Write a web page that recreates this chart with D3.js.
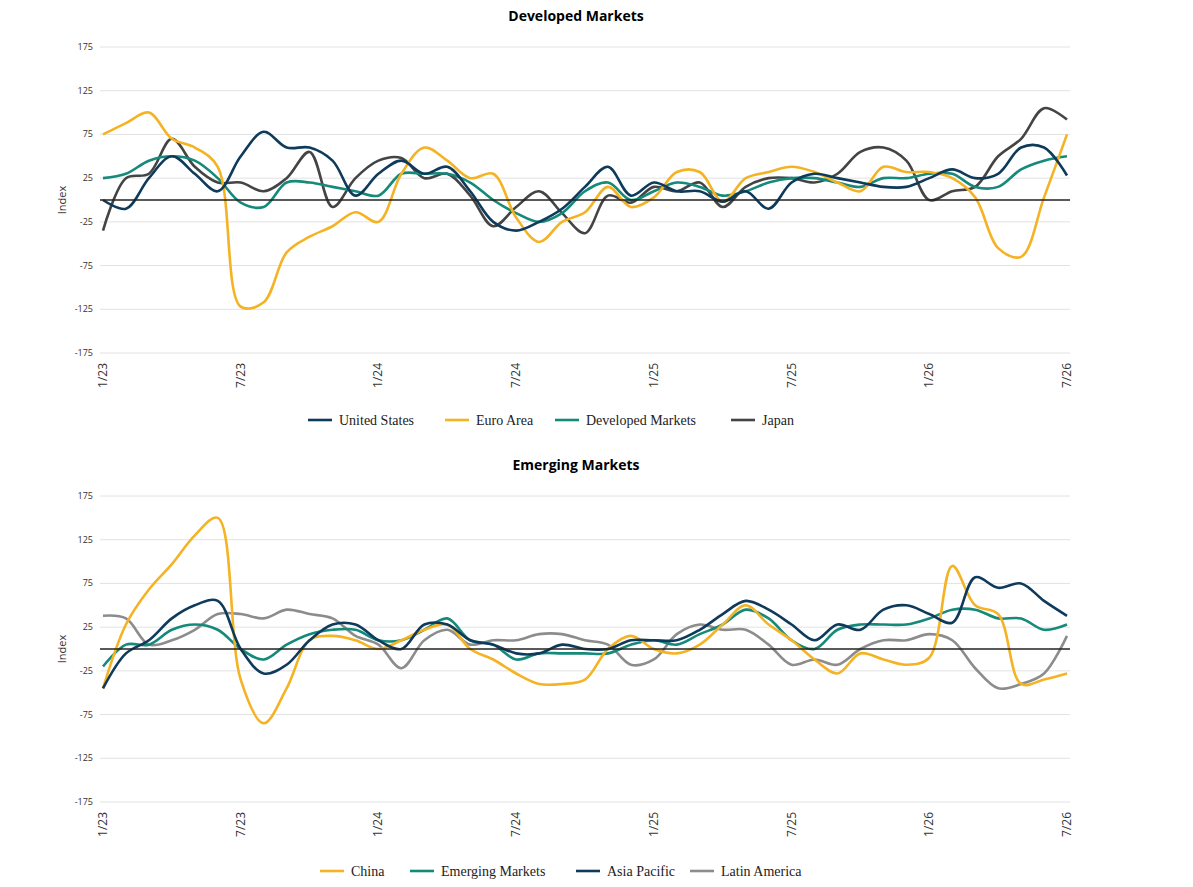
<!DOCTYPE html>
<html><head><meta charset="utf-8">
<script src="https://cdn.jsdelivr.net/npm/d3@7"></script>
<style>body{margin:0;background:#fff}</style>
</head><body>
<svg id="c" width="1193" height="887"></svg>
<script>
// monthly points, 1/23 .. 7/26
var unitedStates = [0,-10,25,50,30,10,50,78,60,60,45,5,30,45,30,38,10,-25,-35,-25,-10,15,38,5,20,10,10,-2,10,-10,20,30,25,20,15,15,25,35,25,30,60,60,28];
var euroArea = [75,88,100,70,60,38,-122,-117,-60,-42,-30,-14,-25,30,60,45,25,30,-20,-48,-25,-14,15,-8,3,32,32,-2,25,32,38,32,20,10,38,32,32,25,3,-55,-65,3,75];
var developed = [25,30,45,50,45,25,-3,-8,20,20,15,10,5,30,30,30,20,0,-15,-25,-15,10,20,0,10,20,15,5,10,20,25,25,20,15,25,25,30,30,15,15,35,45,50];
var japan = [-35,25,30,70,38,20,20,10,25,55,-8,25,45,48,25,30,5,-30,-8,10,-15,-38,5,-3,15,10,20,-8,15,25,25,20,30,55,60,45,0,10,15,50,70,105,92];

var china = [-45,28,68,97,130,150,-35,-85,-45,10,15,10,0,10,22,28,0,-12,-28,-40,-40,-35,0,15,0,-5,5,28,50,28,10,-12,-28,-5,-12,-18,-10,95,50,40,-40,-35,-28];
var emerging = [-20,5,5,22,28,22,0,-12,5,17,22,22,10,10,22,35,10,5,-12,-5,-5,-5,-5,5,10,5,17,28,45,35,10,0,22,28,28,28,35,45,45,35,35,22,28];
var asiaPacific = [-45,-5,10,35,50,55,0,-28,-18,10,28,28,10,0,28,28,10,5,-5,-5,5,0,0,10,10,10,22,40,55,45,28,10,28,22,45,50,40,30,82,70,75,55,38];
var latinAmerica = [38,35,5,10,22,40,40,35,45,40,35,15,5,-22,10,22,5,10,10,17,17,10,5,-18,-12,17,28,22,22,5,-18,-12,-18,0,10,10,17,10,-22,-45,-40,-28,15];

var tickMonths = [0,6,12,18,24,30,36,42];
var tickLabels = ["1/23","7/23","1/24","7/24","1/25","7/25","1/26","7/26"];
var yTicks = [175,125,75,25,-25,-75,-125,-175];

var navy = "#0e3a5b", yellow = "#f5b324", teal = "#15897a", dark = "#444444", grey = "#8c8c8c";

var svg = d3.select("#c");
var x = d3.scaleLinear().domain([0, 42]).range([103, 1067]);

function panel(top, title, series) {
  var y = d3.scaleLinear().domain([-175, 175]).range([top + 306, top]);
  var g = svg.append("g");
  g.append("text").attr("x", 576).attr("y", top - 26).attr("text-anchor", "middle")
    .attr("font-family", "Open Sans").attr("font-weight", "bold").attr("font-size", 14).text(title);
  g.selectAll(".grid").data(yTicks).enter().append("line")
    .attr("x1", 100).attr("x2", 1070).attr("y1", function(d) { return y(d); }).attr("y2", function(d) { return y(d); })
    .attr("stroke", "#e2e2e2");
  g.selectAll(".yl").data(yTicks).enter().append("text")
    .attr("x", 93).attr("y", function(d) { return y(d) + 3; }).attr("text-anchor", "end")
    .attr("font-family", "Open Sans").attr("font-size", 9).attr("fill", "#333").text(function(d) { return d; });
  g.append("text").attr("transform", "translate(66," + y(0) + ") rotate(-90)").attr("text-anchor", "middle")
    .attr("font-family", "Open Sans").attr("font-size", 11).attr("fill", "#333").text("Index");
  g.selectAll(".xl").data(tickMonths).enter().append("text")
    .attr("transform", function(d) { return "translate(" + (x(d) + 4) + "," + (top + 316) + ") rotate(-90)"; })
    .attr("text-anchor", "end").attr("font-family", "Open Sans").attr("font-size", 12).attr("fill", "#333")
    .text(function(d, i) { return tickLabels[i]; });
  var line = d3.line().x(function(d, i) { return x(i); }).y(function(d) { return y(d); }).curve(d3.curveCatmullRom.alpha(0.5));
  series.forEach(function(s) {
    g.append("path").datum(s.values).attr("d", line).attr("fill", "none")
      .attr("stroke", s.color).attr("stroke-width", 2.6);
  });
  g.append("line").attr("x1", 100).attr("x2", 1070).attr("y1", y(0)).attr("y2", y(0))
    .attr("stroke", "#222").attr("stroke-width", 1.5);
}

function legend(yPos, items) {
  items.forEach(function(it) {
    svg.append("line").attr("x1", it.x).attr("x2", it.x + 24).attr("y1", yPos).attr("y2", yPos)
      .attr("stroke", it.color).attr("stroke-width", 2.6);
    svg.append("text").attr("x", it.x + 31).attr("y", yPos + 5)
      .attr("font-family", "Liberation Serif").attr("font-size", 14).attr("fill", "#222").text(it.name);
  });
}

panel(47, "Developed Markets", [
  { values: japan, color: dark },
  { values: developed, color: teal },
  { values: euroArea, color: yellow },
  { values: unitedStates, color: navy }
]);
legend(420, [
  { x: 308, name: "United States", color: navy },
  { x: 445, name: "Euro Area", color: yellow },
  { x: 555, name: "Developed Markets", color: teal },
  { x: 731, name: "Japan", color: dark }
]);

panel(496, "Emerging Markets", [
  { values: latinAmerica, color: grey },
  { values: emerging, color: teal },
  { values: china, color: yellow },
  { values: asiaPacific, color: navy }
]);
legend(871, [
  { x: 320, name: "China", color: yellow },
  { x: 410, name: "Emerging Markets", color: teal },
  { x: 576, name: "Asia Pacific", color: navy },
  { x: 690, name: "Latin America", color: grey }
]);
</script>
</body></html>
